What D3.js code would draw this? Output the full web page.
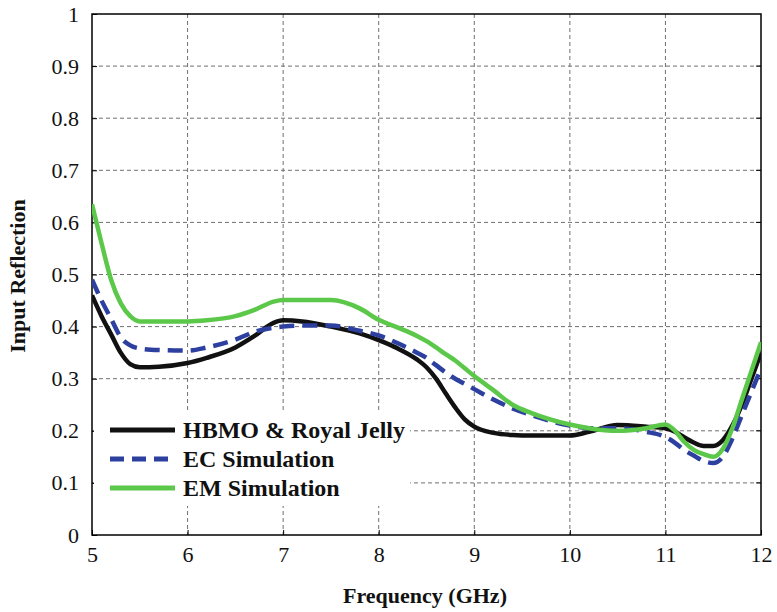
<!DOCTYPE html>
<html>
<head>
<meta charset="utf-8">
<script src="https://cdn.jsdelivr.net/npm/d3@7"></script>
<style>
  html, body { margin: 0; padding: 0; background: #fff; }
  svg { display: block; }
  svg text { font-family: "Liberation Serif", "DejaVu Serif", serif; fill: #111; }
</style>
</head>
<body>
<svg id="chart" width="777" height="612"></svg>
<script>
// Frequency sweep (GHz)
const freq = [5.0,5.1,5.2,5.3,5.4,5.5,5.7,6.0,6.2,6.5,6.7,6.9,7.0,7.2,7.5,7.8,8.0,8.2,8.4,8.5,8.6,8.7,8.8,8.9,9.0,9.2,9.4,9.6,10.0,10.2,10.5,10.8,11.0,11.1,11.2,11.3,11.4,11.5,11.6,11.7,11.8,11.9,12.0];

// Input reflection magnitude for each method
const hbmo = [0.46,0.42,0.385,0.35,0.328,0.322,0.323,0.33,0.34,0.36,0.382,0.407,0.412,0.41,0.40,0.387,0.374,0.358,0.337,0.322,0.30,0.272,0.245,0.222,0.208,0.196,0.192,0.191,0.191,0.198,0.211,0.208,0.205,0.198,0.187,0.177,0.171,0.171,0.182,0.21,0.25,0.30,0.35];
const ecSim = [0.49,0.45,0.415,0.38,0.364,0.358,0.355,0.354,0.36,0.375,0.39,0.398,0.40,0.402,0.402,0.392,0.383,0.368,0.35,0.34,0.326,0.312,0.30,0.29,0.28,0.26,0.243,0.23,0.21,0.205,0.205,0.198,0.188,0.177,0.163,0.152,0.142,0.138,0.15,0.185,0.23,0.275,0.32];
const emSim = [0.635,0.56,0.49,0.445,0.42,0.41,0.41,0.41,0.412,0.42,0.432,0.448,0.451,0.451,0.451,0.435,0.413,0.398,0.382,0.372,0.36,0.347,0.335,0.32,0.305,0.278,0.25,0.234,0.212,0.205,0.20,0.205,0.212,0.20,0.178,0.163,0.155,0.15,0.165,0.205,0.26,0.315,0.37];

const seriesNames = ["HBMO & Royal Jelly", "EC Simulation", "EM Simulation"];
const xTicks = [5,6,7,8,9,10,11,12];
const yTicks = [0,0.1,0.2,0.3,0.4,0.5,0.6,0.7,0.8,0.9,1];

const svg = d3.select("#chart");
const plotLeft = 92, plotRight = 761, plotTop = 14, plotBottom = 535;

const x = d3.scaleLinear().domain([5, 12]).range([plotLeft, plotRight]);
const y = d3.scaleLinear().domain([0, 1]).range([plotBottom, plotTop]);

// grid
const grid = svg.append("g").attr("stroke", "#707070").attr("stroke-width", 1).attr("stroke-dasharray", "4,3");
xTicks.slice(1, -1).forEach(t => {
  grid.append("line").attr("x1", x(t)).attr("x2", x(t)).attr("y1", plotTop).attr("y2", plotBottom);
});
yTicks.slice(1, -1).forEach(t => {
  grid.append("line").attr("x1", plotLeft).attr("x2", plotRight).attr("y1", y(t)).attr("y2", y(t));
});

// frame
svg.append("rect").attr("x", plotLeft).attr("y", plotTop).attr("width", plotRight - plotLeft).attr("height", plotBottom - plotTop)
  .attr("fill", "none").attr("stroke", "#000").attr("stroke-width", 1.5);

// axes with inward ticks
const yAxis = svg.append("g").attr("transform", `translate(${plotLeft},0)`)
  .call(d3.axisLeft(y).tickValues(yTicks).tickSizeInner(-5).tickSizeOuter(0).tickPadding(13)
    .tickFormat(d => d === 0 ? "0" : d === 1 ? "1" : d3.format(".1f")(d)));
yAxis.select(".domain").remove();
yAxis.attr("font-family", null).selectAll("text").attr("font-size", 22);
yAxis.selectAll("line").attr("stroke", "#000");

const xAxis = svg.append("g").attr("transform", `translate(0,${plotBottom})`)
  .call(d3.axisBottom(x).tickValues(xTicks).tickSizeInner(-5).tickSizeOuter(0).tickPadding(11)
    .tickFormat(d3.format("d")));
xAxis.select(".domain").remove();
xAxis.attr("font-family", null).selectAll("text").attr("font-size", 22);
xAxis.selectAll("line").attr("stroke", "#000");

// right-side inward ticks
svg.append("g").selectAll("line").data(yTicks.slice(1, -1)).join("line")
  .attr("x1", plotRight - 5).attr("x2", plotRight).attr("y1", d => y(d)).attr("y2", d => y(d))
  .attr("stroke", "#000");

// legend background
svg.append("rect").attr("x", 94).attr("y", 412).attr("width", 316).attr("height", 94).attr("fill", "#fff");

// curves
const styles = [
  { data: hbmo, color: "#111111", dash: null },
  { data: ecSim, color: "#2d40a0", dash: "15,8" },
  { data: emSim, color: "#5cc84a", dash: null }
];
const line = d3.line().x(d => x(d[0])).y(d => y(d[1])).curve(d3.curveMonotoneX);

svg.append("clipPath").attr("id", "plotclip").append("rect")
  .attr("x", plotLeft).attr("y", plotTop).attr("width", plotRight - plotLeft).attr("height", plotBottom - plotTop);

styles.forEach(s => {
  svg.append("path")
    .datum(freq.map((f, i) => [f, s.data[i]]))
    .attr("d", line)
    .attr("fill", "none")
    .attr("stroke", s.color)
    .attr("stroke-width", 4.5)
    .attr("stroke-linejoin", "round")
    .attr("stroke-dasharray", s.dash)
    .attr("clip-path", "url(#plotclip)");
});

// legend
const legend = svg.append("g");
seriesNames.forEach((name, i) => {
  const ly = 430 + i * 29;
  legend.append("line").attr("x1", 110).attr("x2", 175).attr("y1", ly).attr("y2", ly)
    .attr("stroke", styles[i].color).attr("stroke-width", 5)
    .attr("stroke-dasharray", styles[i].dash ? "14,8" : null);
  legend.append("text").attr("x", 183).attr("y", ly + 8).text(name)
    .attr("font-weight", "bold").attr("font-size", 24);
});

// axis titles
svg.append("text").attr("x", 425).attr("y", 603).attr("text-anchor", "middle")
  .attr("font-weight", "bold").attr("font-size", 22)
  .text("Frequency (GHz)");
svg.append("text").attr("transform", `translate(25,276) rotate(-90)`).attr("text-anchor", "middle")
  .attr("font-weight", "bold").attr("font-size", 22)
  .text("Input Reflection");
</script>
</body>
</html>
